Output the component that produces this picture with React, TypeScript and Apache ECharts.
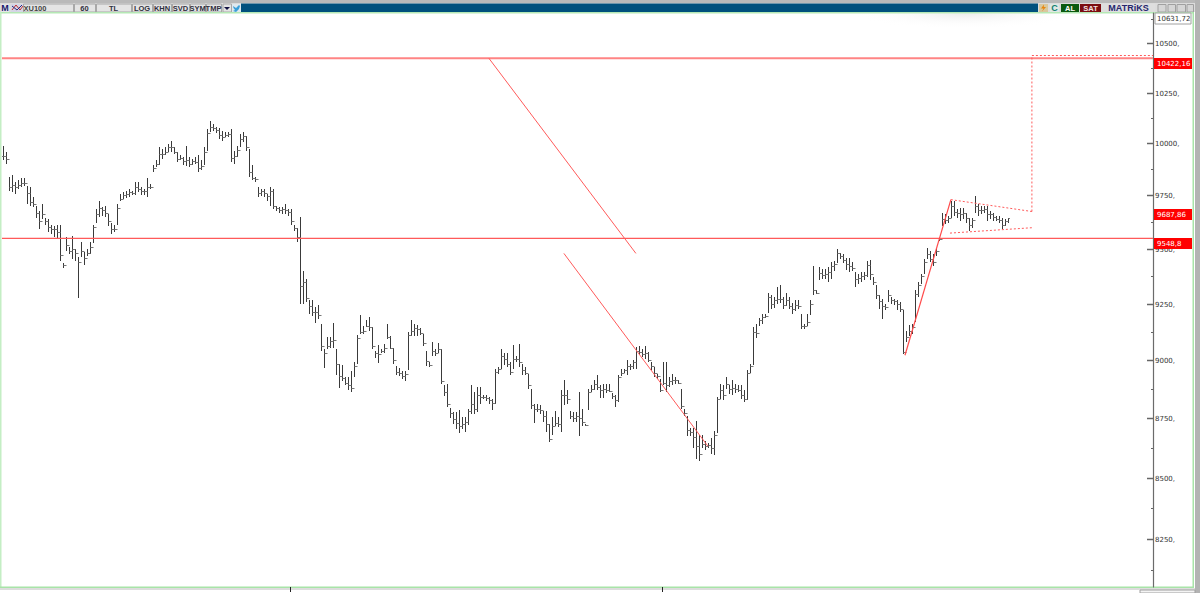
import React, { useEffect, useRef } from "react";
import * as echarts from "echarts";

// ---- price data (one bar per slot, hourly XU100) ----
const highs = [
  9986,9957,9837,9845,9813,9821,9834,9834,9797,9792,
  9741,9701,9677,9709,9645,9637,9613,9605,9613,9613,
  9437,9557,9509,9560,9501,9461,9533,9485,9501,9533,
  9613,9685,9725,9693,9701,9661,9621,9613,9709,9757,
  9765,9773,9781,9773,9813,9816,9789,9781,9832,9805,
  9893,9917,9981,9973,9981,9997,10013,9981,9957,9941,
  9933,9989,9933,9925,9933,9941,9917,9981,10069,10109,
  10093,10082,10077,10061,10053,10053,10069,9965,9989,10045,
  10053,10037,9973,9893,9837,9789,9781,9781,9757,9789,
  9781,9701,9693,9693,9709,9685,9685,9613,9597,9650,
  9400,9362,9265,9265,9235,9242,9160,9047,9100,9100,
  9164,9047,8983,8978,8925,8925,8954,8990,9110,9200,
  9152,9175,9190,9145,9040,9065,9047,9070,9160,9107,
  9055,8973,8964,8954,8954,9122,9179,9160,9155,9140,
  9115,9040,8990,9080,9047,9077,9047,8890,8897,8792,
  8775,8775,8786,8754,8754,8790,8893,8861,8883,8883,
  8850,8847,8840,8833,8961,8968,9050,9033,9033,8990,
  9065,9018,9072,8983,8968,8940,8875,8811,8811,8804,
  8782,8782,8725,8754,8782,8754,8868,8915,8868,8782,
  8775,8775,8861,8790,8725,8875,8890,8915,8934,8890,
  8897,8897,8897,8857,8847,8934,8963,8963,9000,8985,
  9000,9057,9060,9050,9060,9035,8992,8970,8941,8919,
  8992,8992,8926,8941,8926,8912,8876,8789,8760,8709,
  8709,8738,8680,8680,8651,8644,8665,8695,8840,8897,
  8890,8926,8890,8915,8897,8890,8890,8868,8955,8985,
  9144,9159,9188,9202,9202,9296,9289,9282,9325,9335,
  9282,9296,9282,9253,9267,9267,9205,9160,9205,9265,
  9423,9310,9415,9408,9408,9415,9438,9445,9501,9483,
  9475,9460,9460,9438,9393,9385,9393,9393,9445,9450,
  9370,9333,9288,9273,9250,9310,9280,9273,9265,9258,
  9220,9130,9153,9160,9310,9348,9385,9453,9505,9490,
  9475,9498,9551,9668,9660,9653,9723,9723,9684,9691,
  9691,9668,9645,9645,9746,9707,9699,9699,9699,9676,
  9668,9653,9653,9645,9637,9645,
];
const lows = [
  9917,9901,9773,9765,9757,9781,9789,9797,9709,9701,
  9693,9645,9592,9637,9613,9576,9570,9557,9549,9445,
  9413,9490,9477,9453,9445,9275,9461,9426,9466,9477,
  9525,9618,9650,9653,9650,9605,9570,9578,9613,9725,
  9733,9736,9741,9752,9752,9765,9752,9752,9741,9781,
  9861,9885,9893,9925,9941,9957,9957,9949,9909,9917,
  9896,9890,9885,9893,9901,9861,9869,9893,9965,10053,
  10061,10050,10021,10013,10029,10029,9909,9901,9933,9981,
  10005,9965,9837,9821,9813,9741,9749,9741,9725,9701,
  9685,9677,9669,9661,9661,9653,9613,9581,9530,9250,
  9250,9257,9205,9197,9164,9182,9040,8964,9047,9055,
  9055,8935,8878,8907,8890,8868,8861,8925,8983,9115,
  9115,9145,9130,9047,9011,8987,9033,9033,9092,9047,
  8983,8935,8930,8918,8911,8958,9107,9104,9104,9110,
  9062,8973,8968,9020,9018,9033,8897,8844,8797,8750,
  8725,8704,8686,8704,8692,8721,8768,8768,8775,8811,
  8830,8821,8811,8783,8811,8940,8961,8978,8968,8933,
  8961,8990,8968,8933,8933,8875,8790,8729,8775,8768,
  8733,8690,8647,8678,8718,8711,8690,8804,8811,8747,
  8733,8733,8672,8718,8718,8783,8861,8868,8868,8837,
  8837,8857,8861,8832,8799,8818,8929,8944,8934,8958,
  8963,8963,9021,9013,9006,8992,8955,8926,8919,8861,
  8890,8861,8883,8890,8895,8897,8789,8760,8673,8673,
  8622,8579,8571,8622,8615,8622,8600,8593,8687,8832,
  8828,8876,8854,8847,8857,8861,8832,8818,8825,8944,
  8977,9098,9151,9159,9188,9209,9224,9231,9248,9253,
  9224,9238,9224,9202,9217,9228,9138,9138,9150,9198,
  9288,9295,9355,9360,9363,9348,9363,9400,9435,9453,
  9435,9405,9393,9400,9325,9340,9348,9355,9370,9355,
  9333,9273,9228,9183,9220,9258,9250,9243,9220,9213,
  9025,9078,9108,9115,9168,9280,9340,9385,9453,9438,
  9423,9468,9536,9606,9614,9621,9645,9653,9645,9629,
  9637,9621,9583,9598,9668,9653,9660,9668,9629,9637,
  9629,9629,9621,9590,9606,9621,
];
const closes = [
  9940,9925,9790,9800,9790,9800,9810,9810,9760,9720,
  9710,9665,9630,9660,9630,9600,9590,9590,9580,9470,
  9425,9520,9490,9500,9480,9440,9490,9460,9480,9510,
  9600,9660,9690,9680,9665,9630,9590,9590,9690,9735,
  9750,9755,9765,9760,9790,9780,9770,9770,9790,9790,
  9880,9900,9950,9950,9960,9980,9980,9960,9925,9930,
  9915,9920,9900,9915,9910,9880,9890,9960,10050,10080,
  10075,10065,10040,10030,10040,10045,9930,9940,9970,10020,
  10035,9980,9860,9835,9830,9760,9770,9760,9745,9770,
  9700,9690,9680,9685,9680,9670,9630,9595,9555,9330,
  9350,9275,9240,9215,9215,9200,9060,9030,9060,9085,
  9090,8985,8930,8920,8900,8890,8880,8975,9095,9125,
  9130,9150,9145,9060,9030,9025,9040,9055,9100,9055,
  9000,8950,8945,8930,8940,9110,9130,9140,9135,9120,
  9075,8995,8980,9040,9030,9050,8910,8860,8810,8770,
  8745,8730,8715,8725,8735,8780,8810,8790,8850,8840,
  8840,8835,8825,8815,8950,8960,9020,9005,8985,8950,
  9005,9005,8990,8955,8945,8890,8805,8790,8790,8785,
  8760,8725,8660,8715,8730,8725,8850,8850,8830,8760,
  8750,8760,8750,8735,8720,8860,8875,8895,8885,8870,
  8875,8870,8865,8845,8825,8925,8945,8955,8975,8975,
  8990,9040,9035,9025,9030,9000,8975,8945,8930,8870,
  8900,8890,8910,8915,8915,8900,8800,8770,8700,8690,
  8670,8630,8600,8640,8630,8635,8625,8680,8830,8870,
  8850,8895,8875,8880,8875,8870,8850,8830,8945,8975,
  9125,9120,9175,9190,9195,9280,9250,9265,9270,9270,
  9245,9265,9240,9225,9245,9240,9150,9150,9170,9250,
  9310,9300,9390,9380,9385,9395,9420,9430,9480,9465,
  9450,9430,9420,9410,9360,9365,9375,9380,9425,9385,
  9350,9290,9260,9240,9235,9290,9265,9260,9250,9225,
  9035,9100,9130,9145,9295,9335,9375,9440,9475,9455,
  9440,9490,9545,9640,9635,9645,9700,9670,9665,9660,
  9665,9645,9610,9635,9700,9680,9680,9685,9660,9660,
  9650,9640,9635,9610,9630,9642,
];

// ---- reference levels and drawn trend lines: [bar slot, price] ----
const resistance = 10422.16;
const support = 9548.8;
const lastPrice = 9687.86;
const topPrice = 10631.72;
const axisEnd = 383.17;
const levelUpper = [[-0.5, resistance], [axisEnd, resistance]];
const levelLower = [[-0.5, support], [axisEnd, support]];
const channelOne = [[161.8, 10422], [210.8, 9479]];
const channelTwo = [[186.8, 9479], [234.8, 8631]];
const flagPole = [[300.5, 9021], [315.8, 9730]];
const flagTop = [[315.8, 9730], [342.8, 9674]];
const flagBottom = [[315.5, 9573], [342.8, 9598]];
const targetRise = [[342.8, 9674], [342.8, 10436]];
const targetLevel = [[342.8, 10436], [axisEnd, 10436]];

const majorTicks = [10500, 10250, 10000, 9750, 9500, 9250, 9000, 8750, 8500, 8250];
const minorTicks = [10625, 10375, 10125, 9875, 9625, 9375, 9125, 8875, 8625, 8375, 8125];
const timeTicks = [95.5, 219.5];

const FONT = '"DejaVu Sans", sans-serif';
const BAR_FONT = '"Liberation Sans", sans-serif';
const fmt = (v: number) => String(v).replace(".", ",");

const toolbarCells: [number, number, string][] = [
  [23, 50, "XU100"], [74, 21, "60"], [96, 35, "TL"], [132, 20, "LOG"], [153, 18, "KHN"],
  [172, 17, "SVD"], [190, 15, "SYM"], [206, 15, "TMP"],
];

function toolbar(): any[] {
  const els: any[] = [];
  const rect = (x: number, y: number, w: number, h: number, fill: string, stroke?: string) => ({
    type: "rect", silent: true, shape: { x, y, width: w, height: h },
    style: { fill, stroke: stroke ?? "none", lineWidth: 1 },
  });
  const txt = (x: number, y: number, text: string, fill: string, size = 7, weight = "bold") => ({
    type: "text", silent: true, x, y,
    style: { text, fill, fontSize: size, fontWeight: weight, fontFamily: BAR_FONT, align: "center", verticalAlign: "middle" },
  });
  els.push(rect(0, 0, 1200, 3.5, "#b9b9b9"));
  els.push(rect(0, 3.5, 1200, 8.5, "#dcdcdc"));
  els.push(rect(241, 3.5, 797, 8.5, "#00507d"));
  els.push(rect(1, 4, 8, 8, "#e6e6e6"));
  els.push(txt(5, 8, "M", "#1a1a6e", 9));
  els.push(rect(11, 4, 12, 8, "#d5d5e5"));
  els.push({ type: "polyline", silent: true, shape: { points: [[12, 10], [16, 5], [20, 10], [23, 6]] }, style: { stroke: "#c23030", lineWidth: 1, fill: "none" } });
  els.push({ type: "polyline", silent: true, shape: { points: [[12, 6], [17, 10], [22, 5]] }, style: { stroke: "#2a2a80", lineWidth: 1, fill: "none" } });
  toolbarCells.forEach(([x, w, label]) => {
    els.push(rect(x + 0.5, 4, w, 8, "#e4e4e4", "#a8a8a8"));
    els.push(txt(x + w / 2 + (label === "XU100" ? -13 : 0), 8, label, label === "XU100" ? "#444" : "#303040", 7.5));
  });
  els.push(rect(223, 4, 8.5, 8, "#e4e4e4", "#a8a8a8"));
  els.push({ type: "polygon", silent: true, shape: { points: [[224, 7], [230, 7], [227, 10]] }, style: { fill: "#101040" } });
  els.push(rect(232, 4, 9, 8, "#dfe9ef"));
  els.push({ type: "polygon", silent: true, shape: { points: [[233, 6], [236, 8], [239, 5], [240, 6], [239, 9], [236, 12], [233, 11], [235, 10], [233.5, 8]] }, style: { fill: "#3a9fd8" } });
  els.push(rect(1039, 4, 9, 8, "#d9c79c"));
  els.push({ type: "polygon", silent: true, shape: { points: [[1044, 4.5], [1041, 8.5], [1043.5, 8.5], [1042, 11.5], [1046, 7], [1043.8, 7]] }, style: { fill: "#e8860c" } });
  els.push(rect(1050, 4, 9, 8, "#dfe7e4"));
  els.push(txt(1054.5, 8, "C", "#108070", 9));
  els.push(rect(1061, 4, 18, 8, "#0b5a10"));
  els.push(txt(1070, 8, "AL", "#ffffff", 7.5));
  els.push(rect(1080, 4, 21, 8, "#7b0c10"));
  els.push(txt(1090.5, 8, "SAT", "#f2e0e0", 7.5));
  els.push(rect(1102, 4, 53, 8, "#dedede"));
  els.push(txt(1128.5, 8, "MATRiKS", "#26266e", 9));
  [[1158, 8], [1168, 7.5], [1177, 8.5], [1187, 6.5]].forEach(([x, w]) => {
    els.push(rect(x, 4.5, w, 7.5, "#d6d6d6", "#a0a0a0"));
  });
  // frame
  els.push(rect(0, 12, 1194, 1.5, "#b5e8b5"));
  els.push(rect(0, 12, 1.5, 575, "#c4eec4"));
  els.push(rect(1192.5, 12, 1.5, 575.5, "#a8e4a8"));
  els.push(rect(0, 586.5, 1194, 1.5, "#a8e4a8"));
  els.push(rect(0, 588.5, 1200, 1, "#bcbcbc"));
  els.push(rect(1195, 0, 5, 593, "#b3b3b3"));
  els.push(rect(1140, 590, 55, 3, "#f4f4f4", "#a0a0a0"));
  return els;
}

const barsRender = (params: any, api: any) => {
  const x = Math.round(api.coord([api.value(0), api.value(1)])[0]) + 0.5;
  const yH = Math.round(api.coord([api.value(0), api.value(1)])[1]);
  const yL = Math.round(api.coord([api.value(0), api.value(2)])[1]);
  const yC = Math.round(api.coord([api.value(0), api.value(3)])[1]) + 0.5;
  const yO = Math.round(api.coord([api.value(0), api.value(4)])[1]) + 0.5;
  const stroke = { stroke: "#3a3a3a", lineWidth: 1 };
  return {
    type: "group",
    children: [
      { type: "line", shape: { x1: x, y1: yH, x2: x, y2: yL }, style: stroke },
      { type: "line", shape: { x1: x - 1.5, y1: yO, x2: x, y2: yO }, style: { stroke: "#777", lineWidth: 1 } },
      { type: "line", shape: { x1: x, y1: yC, x2: x + 1.5, y2: yC }, style: { stroke: "#777", lineWidth: 1 } },
    ],
  };
};

const ticksRender = (params: any, api: any) => {
  const right = params.coordSys.x + params.coordSys.width;
  const value = api.value(1);
  const major = api.value(2) === 1;
  const y = Math.round(api.coord([0, value])[1]) + 0.5;
  const children: any[] = [
    { type: "line", shape: { x1: right - (major ? 6 : 2), y1: y, x2: right, y2: y }, style: { stroke: "#666", lineWidth: major ? 1.5 : 1 } },
  ];
  if (major) {
    children.push({
      type: "text", x: right + 2, y,
      style: { text: fmt(value) + ",", fill: "#333", fontSize: 7, fontFamily: FONT, align: "left", verticalAlign: "middle" },
    });
  }
  return { type: "group", children };
};

const tagsRender = (params: any, api: any) => {
  const right = params.coordSys.x + params.coordSys.width;
  const value = api.value(1);
  const isTop = api.value(2) === 1;
  const yRaw = Math.round(api.coord([0, value])[1]);
  const y = isTop ? yRaw - 4 : yRaw;
  return {
    type: "group",
    children: [
      {
        type: "rect", shape: { x: right + (isTop ? 2 : 1), y, width: isTop ? 36 : 38, height: 11 },
        style: { fill: isTop ? "#ffffff" : "#ff0000", stroke: isTop ? "#a0a0a0" : "none", lineWidth: 1 },
      },
      {
        type: "text", x: right + 4, y: y + 5.5,
        style: { text: fmt(value), fill: isTop ? "#333" : "#ffffff", fontSize: 7, fontFamily: FONT, align: "left", verticalAlign: "middle" },
      },
    ],
  };
};

function trend(name: string, data: number[][], color: string, width: number, dash?: number[]) {
  return {
    name, type: "line", data, symbol: "none", silent: true, z: 4, clip: false,
    lineStyle: { color, width, type: dash ?? "solid" },
  };
}

export default function App() {
  const ref = useRef<HTMLDivElement>(null);
  useEffect(() => {
    document.body.style.margin = "0";
    const chart = echarts.init(ref.current!, null, { renderer: "svg" });
    const bars = highs.map((h, i) => [i, h, lows[i], closes[i], i > 0 ? closes[i - 1] : closes[i]]);
    const tickRows = [
      ...majorTicks.map((v) => [0, v, 1]),
      ...minorTicks.map((v) => [0, v, 0]),
    ];
    const tagRows = [[0, topPrice, 1], [0, resistance, 0], [0, lastPrice, 0], [0, support, 0]];
    chart.setOption({
      animation: false,
      backgroundColor: "#ffffff",
      grid: { left: 2, top: 13, width: 1151, height: 574, containLabel: false },
      xAxis: {
        type: "value", min: -0.5, max: axisEnd, splitLine: { show: false },
        axisLine: { show: false },
        axisTick: { show: true, customValues: timeTicks, length: 5, lineStyle: { color: "#222" } },
        axisLabel: { show: false },
      },
      yAxis: {
        type: "log", logBase: 10, min: 8060, max: 10654, position: "right",
        splitLine: { show: false }, axisTick: { show: false }, axisLabel: { show: false },
        axisLine: { show: true, onZero: false, lineStyle: { color: "#6b6b6b", width: 1.2 } },
      },
      graphic: [
        {
          type: "rect", silent: true, z: -1, shape: { x: 850, y: 13.5, width: 210, height: 28 },
          style: {
            fill: {
              type: "radial", x: 0.55, y: 0, r: 0.55,
              colorStops: [{ offset: 0, color: "#ececec" }, { offset: 1, color: "rgba(255,255,255,0)" }],
            },
          },
        },
        ...toolbar(),
      ],
      series: [
        {
          name: "XU100", type: "custom", renderItem: barsRender, data: bars, z: 3, silent: true,
          encode: { x: 0, y: [1, 2, 3, 4] }, clip: false,
        },
        trend("resistance", levelUpper, "#ff8484", 2),
        trend("support", levelLower, "#ff5a5a", 1.2),
        trend("channel upper", channelOne, "#ff5a5a", 1),
        trend("channel lower", channelTwo, "#ff5a5a", 1),
        trend("flag pole", flagPole, "#ff4a4a", 1.2),
        trend("flag top", flagTop, "#ff5a5a", 1, [2, 2]),
        trend("flag bottom", flagBottom, "#ff5a5a", 1, [2, 2]),
        trend("target rise", targetRise, "#ff5a5a", 1, [2, 2]),
        trend("target level", targetLevel, "#ff5a5a", 1, [2, 2]),
        {
          name: "ticks", type: "custom", renderItem: ticksRender, data: tickRows, z: 5, silent: true,
          encode: { x: 0, y: 1 }, clip: false,
        },
        {
          name: "tags", type: "custom", renderItem: tagsRender, data: tagRows, z: 6, silent: true,
          encode: { x: 0, y: 1 }, clip: false,
        },
      ],
    });
    return () => chart.dispose();
  }, []);
  return <div ref={ref} style={{ position: "absolute", left: 0, top: 0, width: 1200, height: 593 }} />;
}
